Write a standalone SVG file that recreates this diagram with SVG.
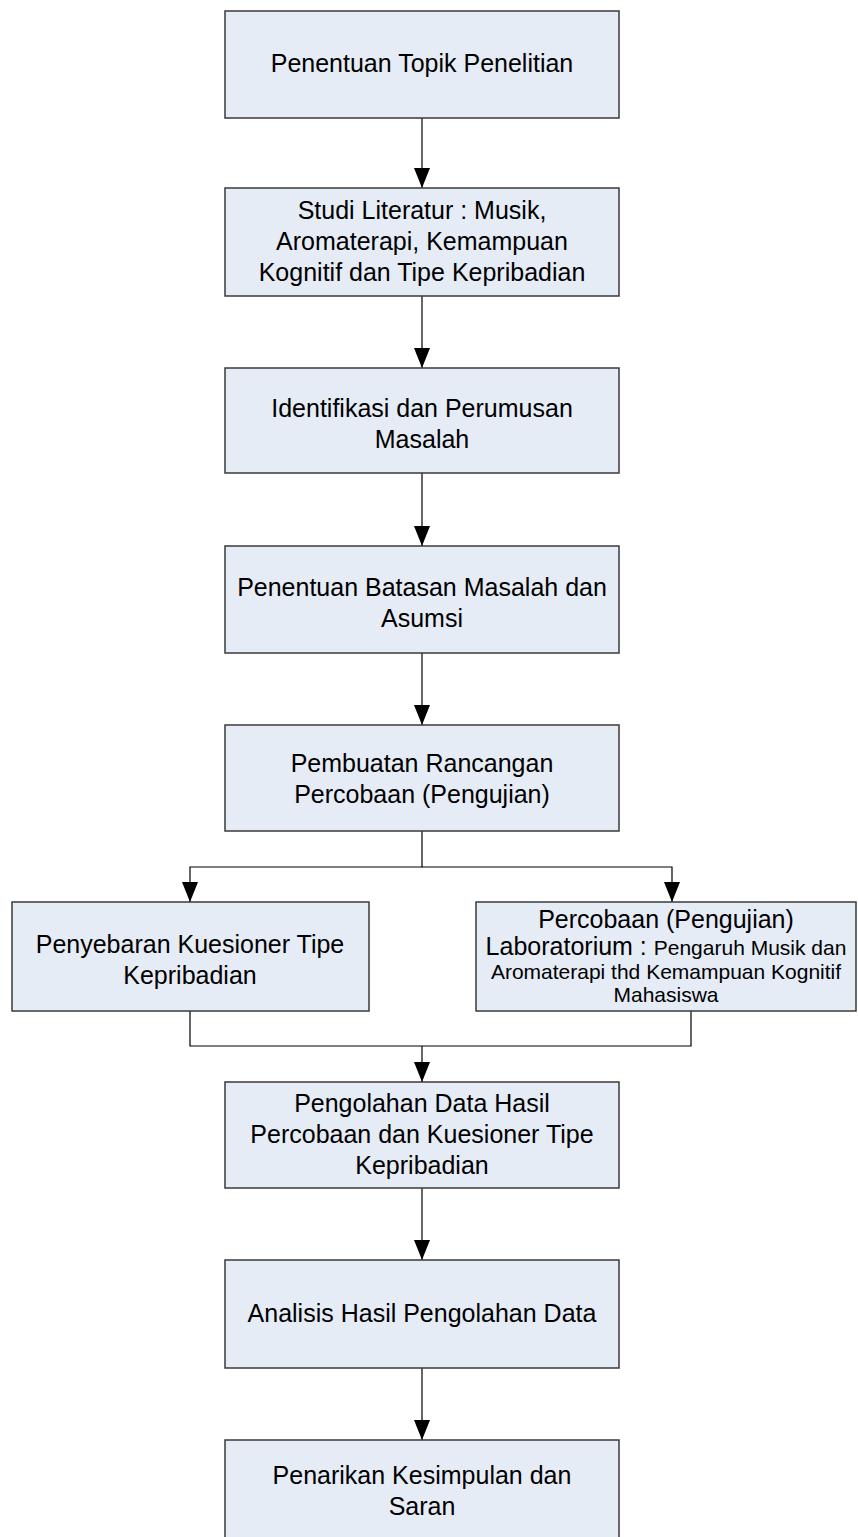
<svg xmlns="http://www.w3.org/2000/svg" width="858" height="1537" viewBox="0 0 858 1537">
<defs>
<marker id="arr" viewBox="0 0 20 16" refX="20" refY="8" markerWidth="20" markerHeight="16" markerUnits="userSpaceOnUse" orient="auto">
<path d="M0,0 L20,8 L0,16 z" fill="#000"/>
</marker>
</defs>
<style>
.box{fill:#E6ECF6;stroke:#3a3a3a;stroke-width:1.5}
.t{font-family:"Liberation Sans",Arial,sans-serif;font-size:25px;fill:#000;text-anchor:middle}
.s{font-size:21px}
.c{fill:none;stroke:#000;stroke-width:1.2}
</style>
<rect width="858" height="1537" fill="#fff"/>
<g id="connectors">
<line class="c" x1="422" y1="118" x2="422" y2="188" marker-end="url(#arr)"/>
<line class="c" x1="422" y1="296" x2="422" y2="368" marker-end="url(#arr)"/>
<line class="c" x1="422" y1="473" x2="422" y2="546" marker-end="url(#arr)"/>
<line class="c" x1="422" y1="653" x2="422" y2="725" marker-end="url(#arr)"/>
<polyline class="c" points="422,831 422,867 190,867 190,902" marker-end="url(#arr)"/>
<polyline class="c" points="422,867 672,867 672,902" marker-end="url(#arr)"/>
<polyline class="c" points="190,1011 190,1046 691,1046 691,1011"/>
<line class="c" x1="422" y1="1046" x2="422" y2="1082" marker-end="url(#arr)"/>
<line class="c" x1="422" y1="1188" x2="422" y2="1260" marker-end="url(#arr)"/>
<line class="c" x1="422" y1="1368" x2="422" y2="1440" marker-end="url(#arr)"/>
</g>
<g id="n1"><rect class="box" x="225" y="11" width="394" height="107"/>
<text class="t" x="422" y="72">Penentuan Topik Penelitian</text></g>
<g id="n2"><rect class="box" x="225" y="188" width="394" height="108"/>
<text class="t" x="422" y="219">Studi Literatur : Musik,</text>
<text class="t" x="422" y="250">Aromaterapi, Kemampuan</text>
<text class="t" x="422" y="281">Kognitif dan Tipe Kepribadian</text></g>
<g id="n3"><rect class="box" x="225" y="368" width="394" height="105"/>
<text class="t" x="422" y="417">Identifikasi dan Perumusan</text>
<text class="t" x="422" y="448">Masalah</text></g>
<g id="n4"><rect class="box" x="225" y="546" width="394" height="107"/>
<text class="t" x="422" y="596">Penentuan Batasan Masalah dan</text>
<text class="t" x="422" y="627">Asumsi</text></g>
<g id="n5"><rect class="box" x="225" y="725" width="394" height="106"/>
<text class="t" x="422" y="772">Pembuatan Rancangan</text>
<text class="t" x="422" y="803">Percobaan (Pengujian)</text></g>
<g id="n6"><rect class="box" x="12" y="902" width="357" height="109"/>
<text class="t" x="190" y="953">Penyebaran Kuesioner Tipe</text>
<text class="t" x="190" y="984">Kepribadian</text></g>
<g id="n7"><rect class="box" x="476" y="902" width="380" height="109"/>
<text class="t" x="666" y="928">Percobaan (Pengujian)</text>
<text class="t" x="666" y="955">Laboratorium : <tspan class="s">Pengaruh Musik dan</tspan></text>
<text class="t s" x="666" y="979">Aromaterapi thd Kemampuan Kognitif</text>
<text class="t s" x="666" y="1002">Mahasiswa</text></g>
<g id="n8"><rect class="box" x="225" y="1082" width="394" height="106"/>
<text class="t" x="422" y="1112">Pengolahan Data Hasil</text>
<text class="t" x="422" y="1143">Percobaan dan Kuesioner Tipe</text>
<text class="t" x="422" y="1174">Kepribadian</text></g>
<g id="n9"><rect class="box" x="225" y="1260" width="394" height="108"/>
<text class="t" x="422" y="1322">Analisis Hasil Pengolahan Data</text></g>
<g id="n10"><rect class="box" x="225" y="1440" width="394" height="110"/>
<text class="t" x="422" y="1484">Penarikan Kesimpulan dan</text>
<text class="t" x="422" y="1515">Saran</text></g>
</svg>
